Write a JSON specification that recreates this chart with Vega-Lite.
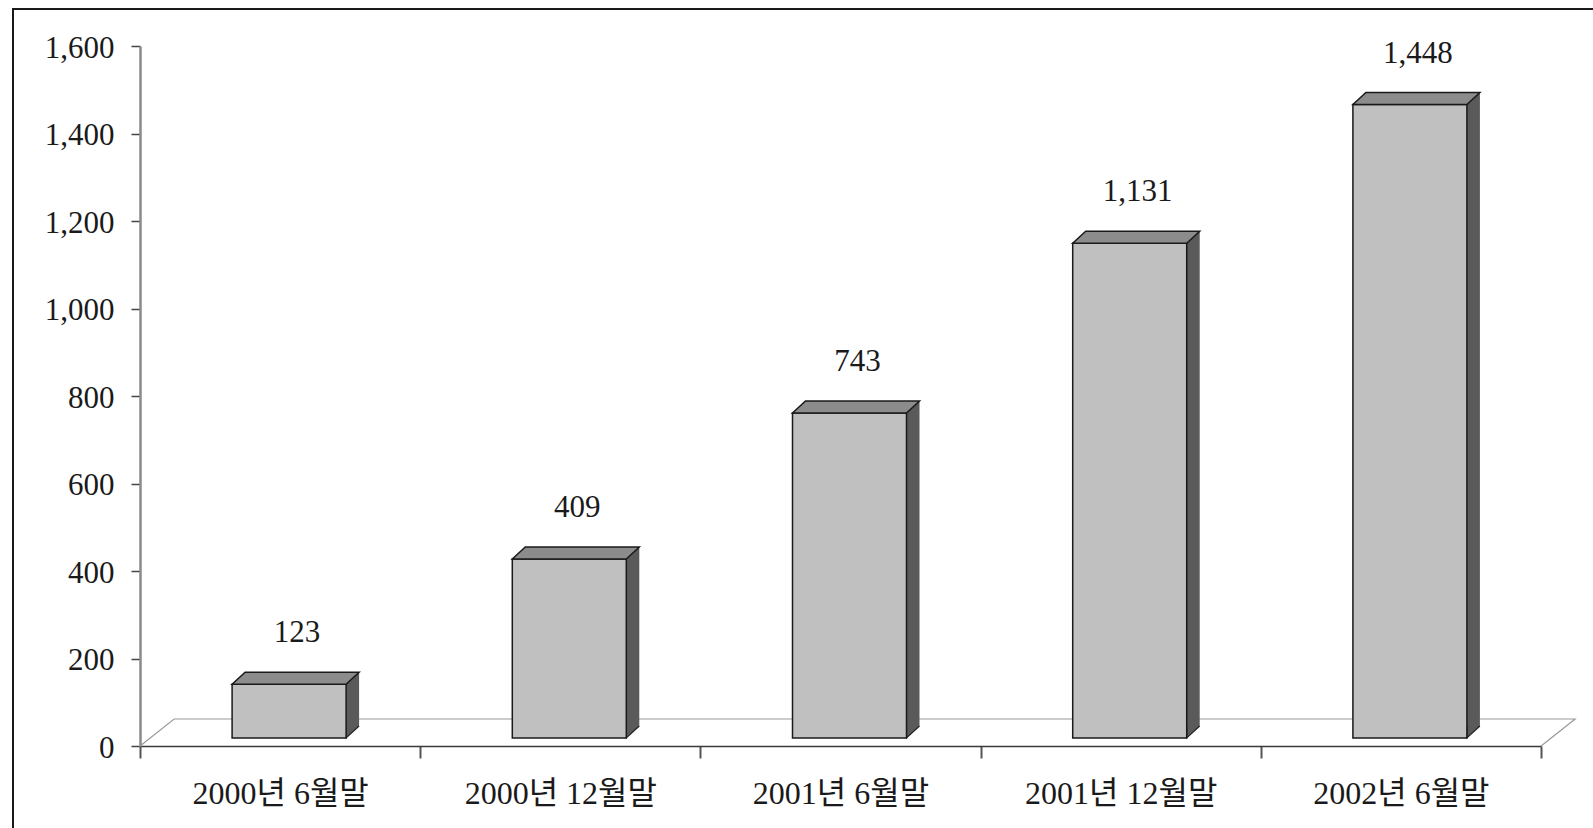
{
  "$schema": "https://vega.github.io/schema/vega-lite/v6.json",
  "width": 1600,
  "height": 830,
  "autosize": "none",
  "padding": {"left": 13, "top": 9, "right": 0, "bottom": 0},
  "background": "white",
  "view": {"stroke": "#1a1a1a", "strokeWidth": 2, "fill": "white"},
  "config": {
    "font": "Liberation Serif, Noto Sans CJK KR",
    "axis": {"labelFont": "Liberation Serif, Noto Sans CJK KR", "labelColor": "#1a1a1a", "labelFontSize": 31, "grid": false, "title": null, "labelLimit": 0}
  },
  "data": {
    "values": [
      {"period": "2000년 6월말", "value": 123},
      {"period": "2000년 12월말", "value": 409},
      {"period": "2001년 6월말", "value": 743},
      {"period": "2001년 12월말", "value": 1131},
      {"period": "2002년 6월말", "value": 1448}
    ]
  },
  "resolve": {"scale": {"x": "shared", "y": "shared"}},
  "layer": [
    {
      "data": {"values": [{"period": "2000년 6월말"}]},
      "mark": {"type": "point", "shape": "M-140,0 L-106,-27 L1295,-27 L1261,0", "size": 4, "filled": false, "fill": null, "stroke": "#9a9a9a", "strokeWidth": 1.2, "opacity": 1, "xOffset": 0, "yOffset": 0},
      "encoding": {
        "x": {"field": "period", "type": "nominal", "sort": null,
          "scale": {"domain": ["2000년 6월말", "2000년 12월말", "2001년 6월말", "2001년 12월말", "2002년 6월말"], "range": [127, 1528], "paddingInner": 0, "paddingOuter": 0},
          "axis": {"orient": "bottom", "offset": -93, "tickBand": "extent", "tickSize": 12, "tickColor": "#555555", "tickWidth": 2, "domainColor": "#3a3a3a", "domainWidth": 1.5, "labelAngle": 0, "labelPadding": 45, "labelBaseline": "alphabetic", "labelLimit": 0, "labelFontSize": 32}},
        "y": {"datum": 0, "type": "quantitative",
          "scale": {"domain": [0, 1600], "range": [737, 37], "nice": false, "zero": true},
          "axis": {"orient": "left", "offset": -127, "values": [0, 200, 400, 600, 800, 1000, 1200, 1400, 1600], "labelExpr": "format(datum.value, ',')", "tickSize": 9, "tickColor": "#444444", "tickWidth": 1.5, "domainColor": "#8a8a8a", "domainWidth": 2.5, "labelPadding": 17, "labelBaseline": "middle", "labelOffset": 2}}
      }
    },
    {
      "mark": {"type": "bar", "width": 13, "xOffset": 72.5, "yOffset": -20, "y2Offset": -20, "fill": "#5a5a5a", "stroke": null, "opacity": 1},
      "encoding": {
        "x": {"field": "period", "type": "nominal", "sort": null},
        "y": {"field": "value", "type": "quantitative"},
        "y2": {"datum": 0}
      }
    },
    {
      "mark": {"type": "point", "shape": "M0,-12 L0,0 L13,-12", "size": 4, "filled": true, "fill": "#5a5a5a", "stroke": "#222222", "strokeWidth": 1.2, "opacity": 1, "xOffset": 66, "yOffset": -8},
      "encoding": {
        "x": {"field": "period", "type": "nominal", "sort": null},
        "y": {"datum": 0, "type": "quantitative"}
      }
    },
    {
      "mark": {"type": "bar", "width": 114, "xOffset": 9, "yOffset": -8, "y2Offset": -8, "fill": "#c0c0c0", "stroke": "#1a1a1a", "strokeWidth": 1.5, "opacity": 1},
      "encoding": {
        "x": {"field": "period", "type": "nominal", "sort": null},
        "y": {"field": "value", "type": "quantitative"},
        "y2": {"datum": 0}
      }
    },
    {
      "mark": {"type": "point", "shape": "M-57,0 L57,0 L70,-12 L-44,-12 Z", "size": 4, "filled": true, "fill": "#8c8c8c", "stroke": "#1a1a1a", "strokeWidth": 1.5, "opacity": 1, "xOffset": 9, "yOffset": -8},
      "encoding": {
        "x": {"field": "period", "type": "nominal", "sort": null},
        "y": {"field": "value", "type": "quantitative"}
      }
    },
    {
      "mark": {"type": "text", "xOffset": 17, "yOffset": -50, "baseline": "alphabetic", "align": "center", "fontSize": 31, "font": "Liberation Serif", "color": "#1a1a1a"},
      "encoding": {
        "x": {"field": "period", "type": "nominal", "sort": null},
        "y": {"field": "value", "type": "quantitative"},
        "text": {"field": "value", "type": "quantitative", "format": ","}
      }
    }
  ]
}
